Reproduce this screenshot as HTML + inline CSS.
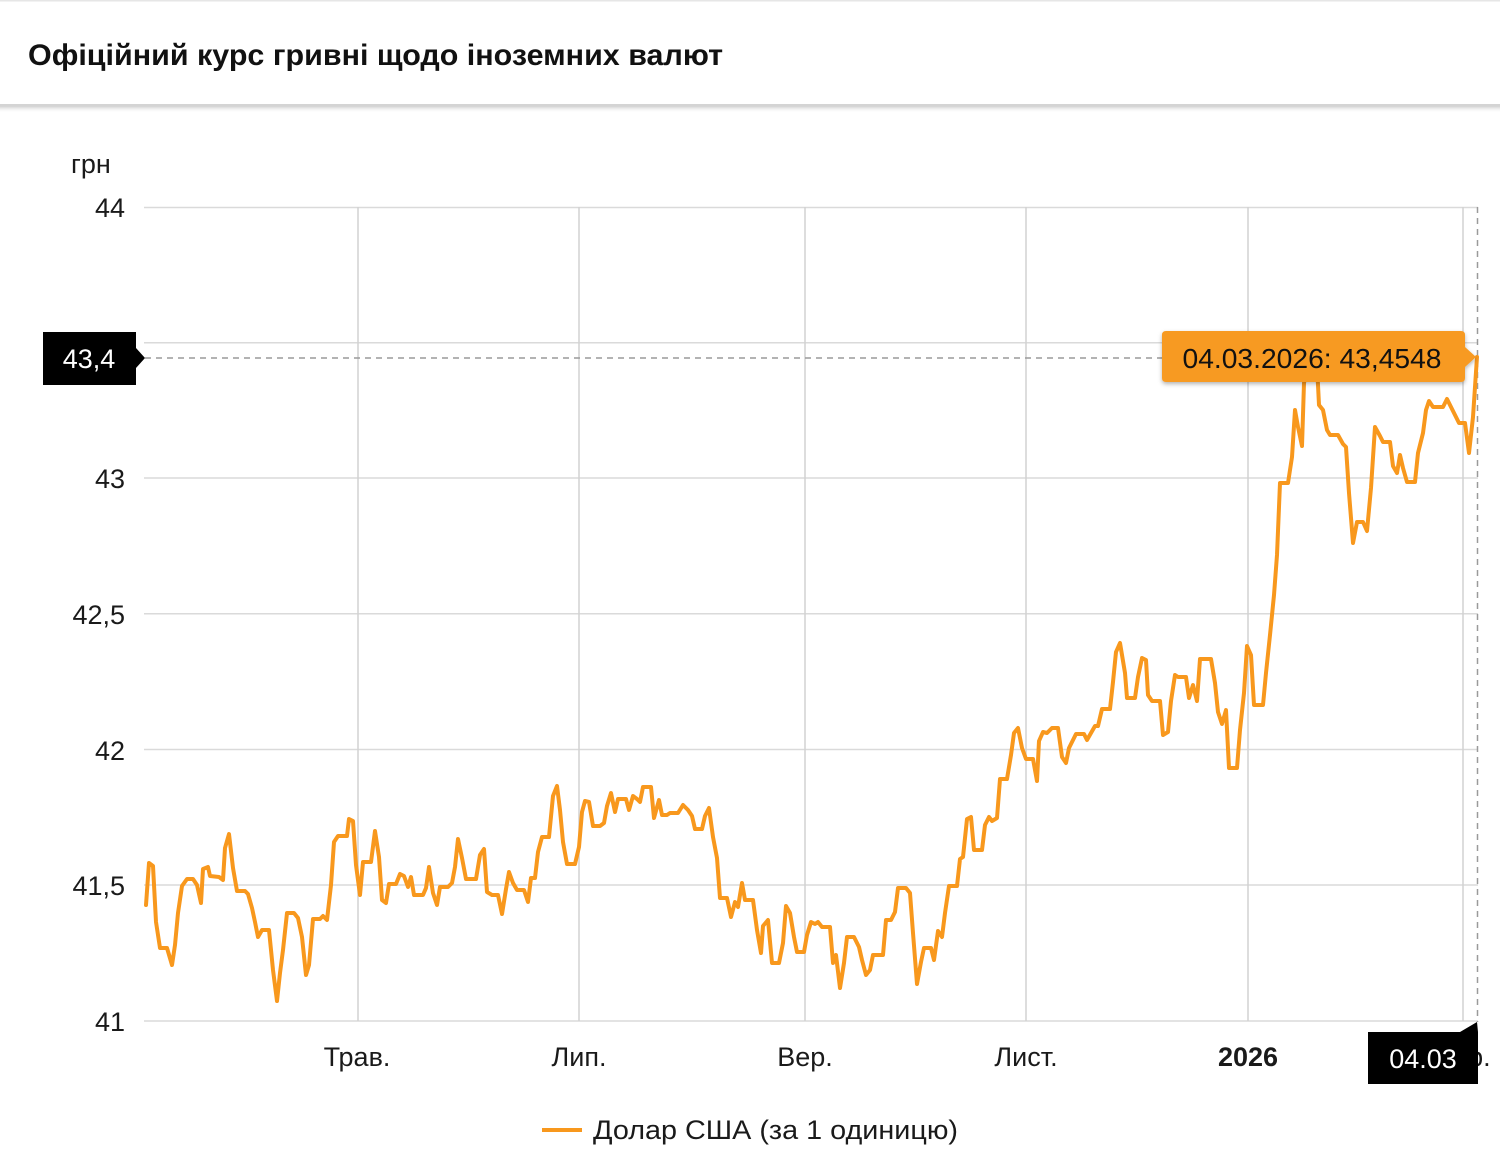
<!DOCTYPE html>
<html>
<head>
<meta charset="utf-8">
<style>
  html, body { margin:0; padding:0; background:#fff; }
  body { width:1500px; height:1158px; overflow:hidden; }
  svg { display:block; }
  text { font-family: "Liberation Sans", "DejaVu Sans", sans-serif; }
</style>
</head>
<body>
<svg width="1500" height="1158" viewBox="0 0 1500 1158" xmlns="http://www.w3.org/2000/svg">
  <defs>
    <linearGradient id="hs" x1="0" y1="0" x2="0" y2="1">
      <stop offset="0" stop-color="#cfcfcf"/>
      <stop offset="1" stop-color="#ffffff" stop-opacity="0"/>
    </linearGradient>
    <filter id="sh" x="-10%" y="-30%" width="120%" height="170%">
      <feDropShadow dx="0" dy="2" stdDeviation="2" flood-color="#000" flood-opacity="0.3"/>
    </filter>
  </defs>

  <!-- header -->
  <rect x="0" y="0" width="1500" height="1.5" fill="#e6e6e6"/>
  <text x="28" y="65" font-size="30" font-weight="bold" fill="#111" textLength="695" lengthAdjust="spacingAndGlyphs">Офіційний курс гривні щодо іноземних валют</text>
  <rect x="0" y="104" width="1500" height="2" fill="#d4d4d4"/>
  <rect x="0" y="106" width="1500" height="7" fill="url(#hs)"/>

  <!-- y unit -->
  <text x="71" y="173" font-size="27" fill="#1a1a1a">грн</text>

  <!-- horizontal gridlines -->
  <g stroke="#dadada" stroke-width="1.5">
    <line x1="144" y1="207.5" x2="1478" y2="207.5"/>
    <line x1="144" y1="342.7" x2="1478" y2="342.7"/>
    <line x1="144" y1="478" x2="1478" y2="478"/>
    <line x1="144" y1="613.7" x2="1478" y2="613.7"/>
    <line x1="144" y1="749.5" x2="1478" y2="749.5"/>
    <line x1="144" y1="885" x2="1478" y2="885"/>
    <line x1="144" y1="1021" x2="1478" y2="1021"/>
  </g>
  <!-- vertical gridlines -->
  <g stroke="#d2d2d2" stroke-width="1.5">
    <line x1="358" y1="207" x2="358" y2="1021"/>
    <line x1="579" y1="207" x2="579" y2="1021"/>
    <line x1="805" y1="207" x2="805" y2="1021"/>
    <line x1="1026" y1="207" x2="1026" y2="1021"/>
    <line x1="1248" y1="207" x2="1248" y2="1021"/>
    <line x1="1463" y1="207" x2="1463" y2="1021"/>
  </g>

  <!-- y labels -->
  <g font-size="27" fill="#1a1a1a" text-anchor="end">
    <text x="125" y="217">44</text>
    <text x="125" y="353">43,5</text>
    <text x="125" y="488">43</text>
    <text x="125" y="624">42,5</text>
    <text x="125" y="760">42</text>
    <text x="125" y="895">41,5</text>
    <text x="125" y="1031">41</text>
  </g>

  <!-- x labels -->
  <g font-size="27" fill="#1a1a1a" text-anchor="middle">
    <text x="357" y="1066">Трав.</text>
    <text x="579" y="1066">Лип.</text>
    <text x="805" y="1066">Вер.</text>
    <text x="1026" y="1066">Лист.</text>
    <text x="1248" y="1066" font-weight="bold">2026</text>
    <text x="1463" y="1066">Бер.</text>
  </g>

  <!-- crosshair -->
  <line x1="145" y1="358" x2="1477" y2="358" stroke="#9a9a9a" stroke-width="1.5" stroke-dasharray="6,5"/>
  <line x1="1477.5" y1="207" x2="1477.5" y2="1022" stroke="#9a9a9a" stroke-width="1.5" stroke-dasharray="6,5"/>

  <!-- series -->
  <polyline fill="none" stroke="#f8981d" stroke-width="4" stroke-linejoin="round" stroke-linecap="round" points="
146,905 149,863 153,866 156,922 160,948 167,948 172,965 175,945 178,913 182,886 187,879 193,879 197,885 201,903 203,869 208,867 210,876 219,877 223,880 225,848 229,834 233,868 237,891 245,891 248,894 252,908 255,922 258,937 262,930 269,930 273,970 277,1001 280,973 283,950 287,913 294,913 298,918 302,937 306,975 309,965 313,919 320,919 323,916 327,920 331,885 334,842 338,836 347,836 349,819 353,821 356,865 360,895 363,862 371,862 375,831 379,857 382,900 386,903 389,884 396,884 400,874 404,876 408,887 411,877 414,895 423,895 426,888 429,867 433,893 437,905 440,887 448,887 452,883 455,867 458,839 462,858 466,879 476,879
480,855 484,849 487,892 492,895 498,895 502,914 506,889 509,872 513,883 517,890 524,890 528,902 531,878 535,878 538,852 542,837 549,837 553,796 557,786 560,810 563,842 567,864 575,864 579,847 582,812 585,801 589,802 593,826 600,826 604,823 607,806 611,793 615,812 618,799 626,799 629,810 633,796 637,799 640,802 643,787 651,787 654,818 659,800 662,815 667,815 670,813 678,813 683,805 688,810 692,816 695,829 702,829 705,816 709,808 713,837 717,858 720,898 727,898 731,917 735,902 738,907 742,883 745,900 753,900 757,930 761,953 763,926 768,920 772,963 779,963 783,943 786,906 790,913 794,937 797,952 804,952
807,935 811,922 815,924 818,922 822,927 830,927 833,963 836,955 840,988 844,963 847,937 854,937 859,947 862,960 866,975 870,970 873,955 883,955 886,920 891,920 895,912 898,888 906,888 910,893 913,933 917,984 921,962 924,948 931,948 934,960 938,931 942,937 945,913 949,886 957,886 960,859 963,857 967,819 971,817 974,850 982,850 985,825 989,817 992,821 997,818 1000,779 1007,779 1011,755 1014,733 1018,728 1022,748 1026,759 1033,759 1037,781 1039,741 1043,732 1047,733 1052,728 1058,728 1062,757 1066,763 1069,748 1076,734 1084,734 1087,740 1095,726 1098,726 1102,709 1110,709 1113,682 1116,652 1120,643 1125,673 1127,698 1135,698
1138,677 1142,658 1146,660 1148,695 1152,701 1160,701 1163,735 1168,732 1171,701 1175,675 1178,677 1186,677 1189,698 1193,685 1197,701 1200,659 1211,659 1215,683 1218,712 1222,724 1226,710 1229,768 1237,768 1240,730 1244,693 1247,646 1251,655 1254,705 1263,705 1266,673 1270,635 1274,595 1277,555 1280,483 1288,483 1292,457 1295,410 1298,427 1302,446 1304,383 1307,370 1312,365 1317,365 1319,405 1323,410 1327,430 1330,435 1338,435 1343,444 1346,447 1349,493 1353,543 1357,522 1363,522 1367,531 1371,488 1375,427 1380,436 1383,442 1390,442 1393,466 1397,473 1400,455 1403,468 1407,482 1415,482 1418,453 1423,433 1426,410 1429,401 1433,407 1443,407 1447,399 1451,407 1456,417 1459,423 1465,423 1469,453 1473,417 1477,357"/>

  <!-- y crosshair label -->
  <path d="M43,332 H136 V348 L145,358 L136,368 V385 H43 Z" fill="#000"/>
  <text x="89" y="368" font-size="27" fill="#fff" text-anchor="middle">43,4</text>

  <!-- x crosshair label -->
  <path d="M1368,1032 H1460 L1477,1022 L1478,1032 V1084 H1368 Z" fill="#000"/>
  <text x="1423" y="1068" font-size="27" fill="#fff" text-anchor="middle">04.03</text>

  <!-- tooltip -->
  <g filter="url(#sh)">
    <path d="M1166,331 H1461 Q1465,331 1465,335 V347 L1476,357 L1465,367 V378 Q1465,382 1461,382 H1166 Q1162,382 1162,378 V335 Q1162,331 1166,331 Z" fill="#f79a21"/>
  </g>
  <text x="1312" y="368" font-size="28" fill="#111" text-anchor="middle" textLength="259" lengthAdjust="spacingAndGlyphs">04.03.2026: 43,4548</text>

  <!-- legend -->
  <line x1="542" y1="1130" x2="582" y2="1130" stroke="#f8981d" stroke-width="4"/>
  <text x="593" y="1139" font-size="27" fill="#1a1a1a" textLength="365" lengthAdjust="spacingAndGlyphs">Долар США (за 1 одиницю)</text>
</svg>
</body>
</html>
